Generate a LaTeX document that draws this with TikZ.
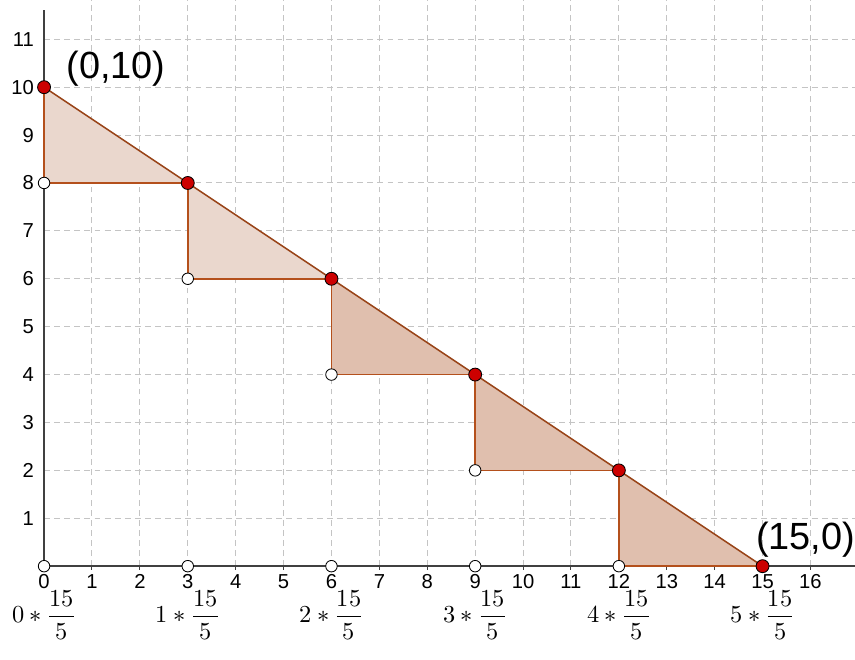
\documentclass[tikz,border=0pt]{standalone}
\usepackage{fontspec}
\setmainfont{Liberation Sans}
\usepackage{amsmath}
\usepackage{unicode-math}
\setmathfont{Latin Modern Math}
\definecolor{gridc}{HTML}{C4C4C4}
\definecolor{axisc}{HTML}{404040}
\definecolor{edgec}{HTML}{B4501C}
\definecolor{filllight}{HTML}{EAD7CD}
\definecolor{filldark}{HTML}{E0BFAE}
\definecolor{ptred}{HTML}{CC0000}
\begin{document}
\begin{tikzpicture}[x=1cm,y=1cm,
  gridline/.style={gridc, line width=0.6pt, dash pattern=on 3.5pt off 2.5pt},
  axisline/.style={axisc, line width=0.9pt},
  tri/.style={draw=edgec, line width=1pt, line join=round},
  redpt/.style={circle, draw=black, fill=ptred, line width=0.5pt, minimum size=0.27cm, inner sep=0pt},
  whitept/.style={circle, draw=black, fill=white, line width=0.5pt, minimum size=0.24cm, inner sep=0pt},
  ticklab/.style={font=\fontsize{12}{14}\selectfont, inner sep=1pt},
  biglab/.style={font=\fontsize{22.5}{26}\selectfont, inner sep=0pt},
  fraclab/.style={font=\fontsize{14.5}{17}\selectfont, inner sep=0pt}]
\useasboundingbox (-0.92,-1.94) rectangle (16.93,11.82);
% grid
\foreach \x in {1,...,16} \draw[gridline] (\x,0) -- (\x,11.82);
\foreach \y in {1,...,11} \draw[gridline] (0,\y) -- (16.93,\y);
% vertices
\foreach \k/\yy in {0/10,1/8,2/6,3/4,4/2,5/0} {
  \coordinate (r\k) at ({3*\k},\yy);
}
\foreach \k/\yy in {0/8,1/6,2/4,3/2,4/0} {
  \coordinate (w\k) at ({3*\k},\yy);
}
% triangles
\fill[filllight] (r0) -- (w0) -- (r1) -- cycle;
\fill[filllight] (r1) -- (w1) -- (r2) -- cycle;
\fill[filldark] (r2) -- (w2) -- (r3) -- cycle;
\fill[filldark] (r3) -- (w3) -- (r4) -- cycle;
\fill[filldark] (r4) -- (w4) -- (r5) -- cycle;
% axes
\coordinate (O) at (0,0);
\coordinate (xend) at (16.93,0);
\coordinate (yend) at (0,11.62);
\draw[axisline] (O) -- (xend);
\draw[axisline] (O) -- (yend);
\foreach \x in {0,...,16} \draw[axisline, line width=0.6pt] (\x,0) -- (\x,-0.08);
% triangle edges
\draw[tri] (r0) -- (w0) -- (r1);
\draw[tri] (r1) -- (w1) -- (r2);
\draw[tri] (r2) -- (w2) -- (r3);
\draw[tri] (r3) -- (w3) -- (r4);
\draw[tri] (r4) -- (w4) -- (r5);
\draw[tri, line width=0.9pt, draw=edgec!85!black] (r0) -- (r5);
% tick labels
\foreach \x in {0,...,16} \node[ticklab] (xl\x) at (\x,-0.32) {\x};
\foreach \y in {1,...,11} \node[ticklab, anchor=east] (yl\y) at (-0.17,\y) {\y};
% white points
\foreach \k in {0,...,4} \node[whitept] (W\k) at (w\k) {};
\foreach \k in {0,1,2,3} \node[whitept] (A\k) at ({3*\k},0) {};
% red points
\foreach \k in {0,...,5} \node[redpt] (R\k) at (r\k) {};
% labels
\node[biglab] (lab1) at (1.5,10.38) {(0,10)};
\node[biglab] (lab2) at (15.9,0.56) {(15,0)};
\foreach \k in {0,...,5} \node[fraclab] (f\k) at ({3*\k},-1.02) {$\k\ast\dfrac{15}{5}$};
\end{tikzpicture}
\end{document}
